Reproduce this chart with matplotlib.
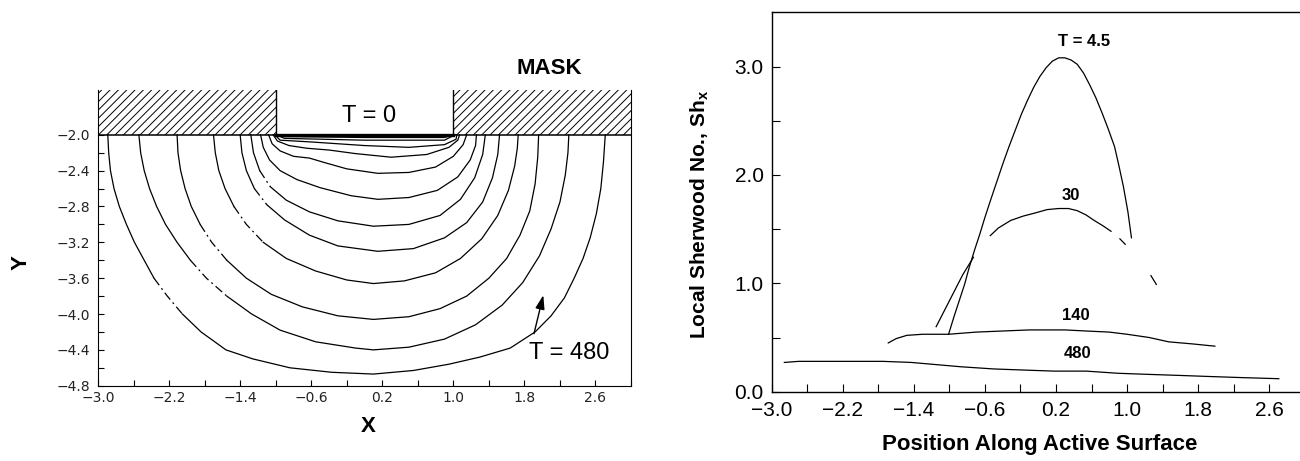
import matplotlib
matplotlib.use("Agg")
import matplotlib.pyplot as plt
from matplotlib.patches import Rectangle

plt.rcParams['font.family'] = ['Liberation Sans', 'DejaVu Sans']
plt.rcParams['hatch.linewidth'] = 0.7

# ---------------- Left panel data: front profiles (x, y) ----------------
c1_x = [-2.89, -2.88, -2.86, -2.82, -2.76, -2.68, -2.59, -2.48, -2.37, -2.22, -2.05, -1.84, -1.56, -1.26, -0.84, -0.37,
        0.10, 0.55, 0.95, 1.30, 1.64, 1.92, 2.10, 2.25, 2.36, 2.46, 2.54, 2.61, 2.66, 2.69, 2.71]
c1_y = [-2.00, -2.20, -2.40, -2.60, -2.80, -3.00, -3.20, -3.40, -3.60, -3.80, -4.00, -4.20, -4.40, -4.50, -4.60, -4.65,
        -4.67, -4.63, -4.56, -4.48, -4.38, -4.20, -4.02, -3.82, -3.60, -3.38, -3.15, -2.88, -2.60, -2.30, -2.00]
c2_x = [-2.54, -2.52, -2.48, -2.42, -2.34, -2.24, -2.11, -1.96, -1.78, -1.55, -1.27, -0.95, -0.55, -0.10, 0.10, 0.50,
        0.90, 1.25, 1.55, 1.78, 1.97, 2.10, 2.20, 2.26, 2.29, 2.30]
c2_y = [-2.00, -2.20, -2.40, -2.60, -2.80, -3.00, -3.20, -3.40, -3.60, -3.80, -4.00, -4.18, -4.31, -4.38, -4.40, -4.37,
        -4.28, -4.12, -3.90, -3.65, -3.35, -3.05, -2.75, -2.45, -2.20, -2.00]
c3_x = [-2.11, -2.10, -2.07, -2.02, -1.95, -1.85, -1.72, -1.55, -1.33, -1.05, -0.70, -0.30, 0.10, 0.50, 0.85, 1.15,
        1.40, 1.60, 1.75, 1.86, 1.92, 1.95, 1.96]
c3_y = [-2.00, -2.20, -2.40, -2.60, -2.80, -3.00, -3.20, -3.40, -3.60, -3.78, -3.92, -4.02, -4.06, -4.03, -3.94, -3.80,
        -3.60, -3.38, -3.12, -2.85, -2.55, -2.25, -2.00]
c4_x = [-1.70, -1.68, -1.64, -1.57, -1.47, -1.33, -1.14, -0.88, -0.55, -0.20, 0.10, 0.45, 0.80, 1.08, 1.32, 1.50,
        1.62, 1.69, 1.72, 1.73]
c4_y = [-2.00, -2.20, -2.40, -2.60, -2.80, -3.00, -3.20, -3.38, -3.52, -3.62, -3.66, -3.63, -3.54, -3.38, -3.16, -2.90,
        -2.62, -2.35, -2.15, -2.00]
c5_x = [-1.40, -1.38, -1.33, -1.24, -1.10, -0.90, -0.62, -0.30, 0.15, 0.55, 0.90, 1.15, 1.33, 1.44, 1.50, 1.52]
c5_y = [-2.00, -2.20, -2.40, -2.60, -2.78, -2.95, -3.12, -3.24, -3.30, -3.27, -3.15, -2.98, -2.75, -2.48, -2.22, -2.00]
c6_x = [-1.28, -1.25, -1.18, -1.06, -0.88, -0.62, -0.30, 0.10, 0.50, 0.85, 1.08, 1.24, 1.33, 1.36]
c6_y = [-2.00, -2.20, -2.40, -2.58, -2.73, -2.86, -2.96, -3.02, -3.00, -2.90, -2.72, -2.48, -2.22, -2.00]
c7_x = [-1.17, -1.14, -1.07, -0.95, -0.76, -0.50, -0.15, 0.15, 0.50, 0.82, 1.05, 1.19, 1.25, 1.26]
c7_y = [-2.00, -2.14, -2.28, -2.40, -2.50, -2.59, -2.68, -2.72, -2.70, -2.62, -2.47, -2.28, -2.12, -2.00]
c8_x = [-1.08, -1.04, -0.95, -0.80, -0.62, -0.45, -0.20, 0.15, 0.50, 0.80, 1.00, 1.11, 1.15]
c8_y = [-2.00, -2.10, -2.18, -2.24, -2.26, -2.31, -2.38, -2.43, -2.42, -2.36, -2.24, -2.11, -2.00]
c9_x = [-1.03, -0.98, -0.85, -0.65, -0.40, -0.10, 0.30, 0.70, 0.95, 1.05, 1.07]
c9_y = [-2.00, -2.07, -2.12, -2.15, -2.17, -2.21, -2.25, -2.22, -2.14, -2.06, -2.00]
c10_x = [-1.01, -0.95, -0.60, 0.00, 0.50, 0.90, 1.03, 1.04]
c10_y = [-2.00, -2.06, -2.08, -2.12, -2.14, -2.11, -2.05, -2.00]
c11_x = [-1.00, -0.90, 0.00, 0.90, 1.02]
c11_y = [-2.00, -2.04, -2.06, -2.06, -2.00]
c12_x = [-1.00, -0.90, 0.00, 0.90, 1.01]
c12_y = [-2.00, -2.02, -2.03, -2.03, -2.00]

left_curves = [(c1_x, c1_y), (c2_x, c2_y), (c3_x, c3_y), (c4_x, c4_y), (c5_x, c5_y),
               (c6_x, c6_y), (c7_x, c7_y), (c8_x, c8_y), (c9_x, c9_y), (c10_x, c10_y),
               (c11_x, c11_y), (c12_x, c12_y)]

left_xticks = [-3.0, -2.2, -1.4, -0.6, 0.2, 1.0, 1.8, 2.6]
left_yticks = [-2.0, -2.4, -2.8, -3.2, -3.6, -4.0, -4.4, -4.8]
mask_left = (-3.0, -1.0)
mask_right = (1.0, 3.0)
mask_y = (-2.0, -1.5)

# ---------------- Right panel data: local Sherwood number ----------------
t45_x = [-1.01, -0.95, -0.89, -0.83, -0.78, -0.72, -0.66, -0.60, -0.54, -0.47, -0.40, -0.33, -0.26, -0.19, -0.12,
         -0.05, 0.02, 0.09, 0.16, 0.23, 0.30, 0.37, 0.44, 0.51, 0.58, 0.65, 0.72, 0.79, 0.86, 0.91, 0.96, 1.01, 1.05]
t45_y = [0.53, 0.69, 0.84, 0.99, 1.14, 1.30, 1.45, 1.61, 1.76, 1.93, 2.10, 2.26, 2.41, 2.56, 2.69,
         2.81, 2.91, 2.99, 3.05, 3.08, 3.08, 3.06, 3.02, 2.94, 2.83, 2.71, 2.57, 2.42, 2.26, 2.08, 1.89, 1.66, 1.42]
t30_x = [-1.15, -1.05, -0.95, -0.85, -0.73, -0.54, -0.45, -0.31, -0.17, -0.03, 0.10, 0.23, 0.34, 0.44, 0.54, 0.63,
         0.73, 0.82, 0.92, 0.98, 1.27, 1.33]
t30_y = [0.60, 0.76, 0.92, 1.08, 1.24, 1.44, 1.51, 1.58, 1.62, 1.65, 1.68, 1.69, 1.69, 1.67, 1.63, 1.58,
         1.53, 1.48, 1.41, 1.36, 1.07, 0.99]
t140_x = [-1.69, -1.60, -1.48, -1.30, -1.01, -0.70, -0.40, -0.10, 0.07, 0.30, 0.54, 0.80, 1.00, 1.25, 1.47, 1.75, 1.99]
t140_y = [0.45, 0.49, 0.52, 0.53, 0.53, 0.55, 0.56, 0.57, 0.57, 0.57, 0.56, 0.55, 0.53, 0.50, 0.46, 0.44, 0.42]
t480_x = [-2.86, -2.70, -2.51, -2.30, -2.04, -1.75, -1.43, -1.15, -0.87, -0.50, -0.17, 0.18, 0.54, 0.90, 1.24,
          1.60, 1.94, 2.30, 2.71]
t480_y = [0.27, 0.28, 0.28, 0.28, 0.28, 0.28, 0.27, 0.25, 0.23, 0.21, 0.20, 0.19, 0.19, 0.17, 0.16,
          0.15, 0.14, 0.13, 0.12]

right_xticks = [-3.0, -2.2, -1.4, -0.6, 0.2, 1.0, 1.8, 2.6]
right_yticks = [0.0, 1.0, 2.0, 3.0]

# ======================================================================
fig = plt.figure(figsize=(13.0, 4.61), dpi=100)

# ---------------- Left panel ----------------
axL = fig.add_axes([0.0754, 0.1633, 0.41, 0.6415])
axL.set_xlim(-3.0, 3.0)
axL.set_ylim(-4.8, -1.5)

# broken (dash-dot) stretches on the left flank, given as y-bands per curve
dash_bands = {0: (-4.15, -3.55), 1: (-3.85, -3.25), 2: (-3.55, -2.95),
              3: (-3.20, -2.70), 4: (-2.90, -2.50), 5: (-2.60, -2.35)}
dash_style = (0, (7, 3, 1.5, 3))


def draw_curve(ax, xs, ys, band):
    n = len(xs)
    flags = []
    for k in range(n):
        f = band is not None and xs[k] < 0 and band[0] <= ys[k] <= band[1]
        flags.append(f)
    # segments: dashed if both endpoints flagged
    start = 0
    seg_flags = [flags[k] and flags[k + 1] for k in range(n - 1)]
    k = 0
    while k < n - 1:
        j = k
        while j < n - 1 and seg_flags[j] == seg_flags[k]:
            j += 1
        ls = dash_style if seg_flags[k] else '-'
        ax.plot(xs[k:j + 1], ys[k:j + 1], color='black', lw=0.9, linestyle=ls)
        k = j


for i, (xs, ys) in enumerate(left_curves):
    draw_curve(axL, xs, ys, dash_bands.get(i))

for (a, b) in (mask_left, mask_right):
    axL.add_patch(Rectangle((a, mask_y[0]), b - a, mask_y[1] - mask_y[0],
                            facecolor='white', edgecolor='black', hatch='////', lw=0))
axL.plot([-3.0, 3.0], [-2.0, -2.0], color='black', lw=1.1)
axL.plot([-1.0, 1.0], [-2.0, -2.0], color='black', lw=2.4)
axL.plot([-1.0, -1.0], [-2.0, -1.5], color='black', lw=1.0)
axL.plot([1.0, 1.0], [-2.0, -1.5], color='black', lw=1.0)
axL.spines['top'].set_visible(False)
axL.set_xticks(left_xticks)
axL.set_xticklabels([f"{v:.1f}".replace('-', '\u2212') for v in left_xticks])
axL.set_xticks([v + 0.4 for v in left_xticks], minor=True)
axL.set_yticks(left_yticks)
axL.set_yticklabels([f"{v:.1f}".replace('-', '\u2212') for v in left_yticks])
axL.set_yticks([v - 0.2 for v in left_yticks[:-1]], minor=True)
axL.tick_params(which='both', direction='in', length=4, width=0.8, top=False, right=False)
axL.tick_params(axis='x', labelsize=10, pad=4)
axL.tick_params(axis='y', labelsize=10, pad=6)
for lab in axL.get_xticklabels() + axL.get_yticklabels():
    lab.set_family('DejaVu Sans')
    lab.set_color('#222222')
axL.text(0.05, -1.79, "T = 0", ha='center', va='center', fontsize=17)
axL.text(2.08, -1.26, "MASK", ha='center', va='center', fontsize=16, fontweight='bold', clip_on=False)
axL.text(2.30, -4.44, "T = 480", ha='center', va='center', fontsize=17)
axL.annotate("", xy=(2.02, -3.76), xytext=(1.90, -4.25),
             arrowprops=dict(arrowstyle='-|>,head_length=0.6,head_width=0.2', color='black',
                             lw=1.0, mutation_scale=14))
fig.text(0.016, 0.43, "Y", rotation=90, ha='center', va='center', fontsize=16, fontweight='bold')
fig.text(0.283, 0.074, "X", ha='center', va='center', fontsize=16, fontweight='bold')

# ---------------- Right panel ----------------
axR = fig.add_axes([0.5938, 0.1503, 0.4097, 0.823])
axR.set_xlim(-3.0, 3.0)
axR.set_ylim(0.0, 3.5)
axR.plot(t45_x, t45_y, color='black', lw=0.9)
axR.plot(t30_x[:5], t30_y[:5], color='black', lw=0.9)
axR.plot(t30_x[5:18], t30_y[5:18], color='black', lw=0.9)
axR.plot(t30_x[18:20], t30_y[18:20], color='black', lw=0.9)
axR.plot(t30_x[20:], t30_y[20:], color='black', lw=0.9)
axR.plot(t140_x, t140_y, color='black', lw=0.9)
axR.plot(t480_x, t480_y, color='black', lw=0.9)
axR.set_xticks(right_xticks)
axR.set_xticklabels([f"{v:.1f}".replace('-', '\u2212') for v in right_xticks])
axR.set_xticks([v + 0.4 for v in right_xticks], minor=True)
axR.set_yticks(right_yticks)
axR.set_yticklabels([f"{v:.1f}" for v in right_yticks])
axR.set_yticks([0.5, 1.5, 2.5], minor=True)
axR.tick_params(which='both', direction='in', length=6, width=0.8, top=False, right=False)
axR.tick_params(axis='x', labelsize=15, pad=7)
axR.tick_params(axis='y', labelsize=15, pad=6)
for s in axR.spines.values():
    s.set_linewidth(1.0)
axR.text(0.52, 3.23, "T = 4.5", ha='center', va='center', fontsize=12, fontweight='bold')
axR.text(0.37, 1.81, "30", ha='center', va='center', fontsize=12, fontweight='bold')
axR.text(0.42, 0.70, "140", ha='center', va='center', fontsize=12, fontweight='bold')
axR.text(0.44, 0.35, "480", ha='center', va='center', fontsize=12, fontweight='bold')
fig.text(0.538, 0.534, "Local Sherwood No., Sh$_\\mathregular{x}$", rotation=90,
         ha='center', va='center', fontsize=15, fontweight='bold')
fig.text(0.80, 0.035, "Position Along Active Surface", ha='center', va='center',
         fontsize=16, fontweight='bold')

fig.savefig("out.png", dpi=100)
